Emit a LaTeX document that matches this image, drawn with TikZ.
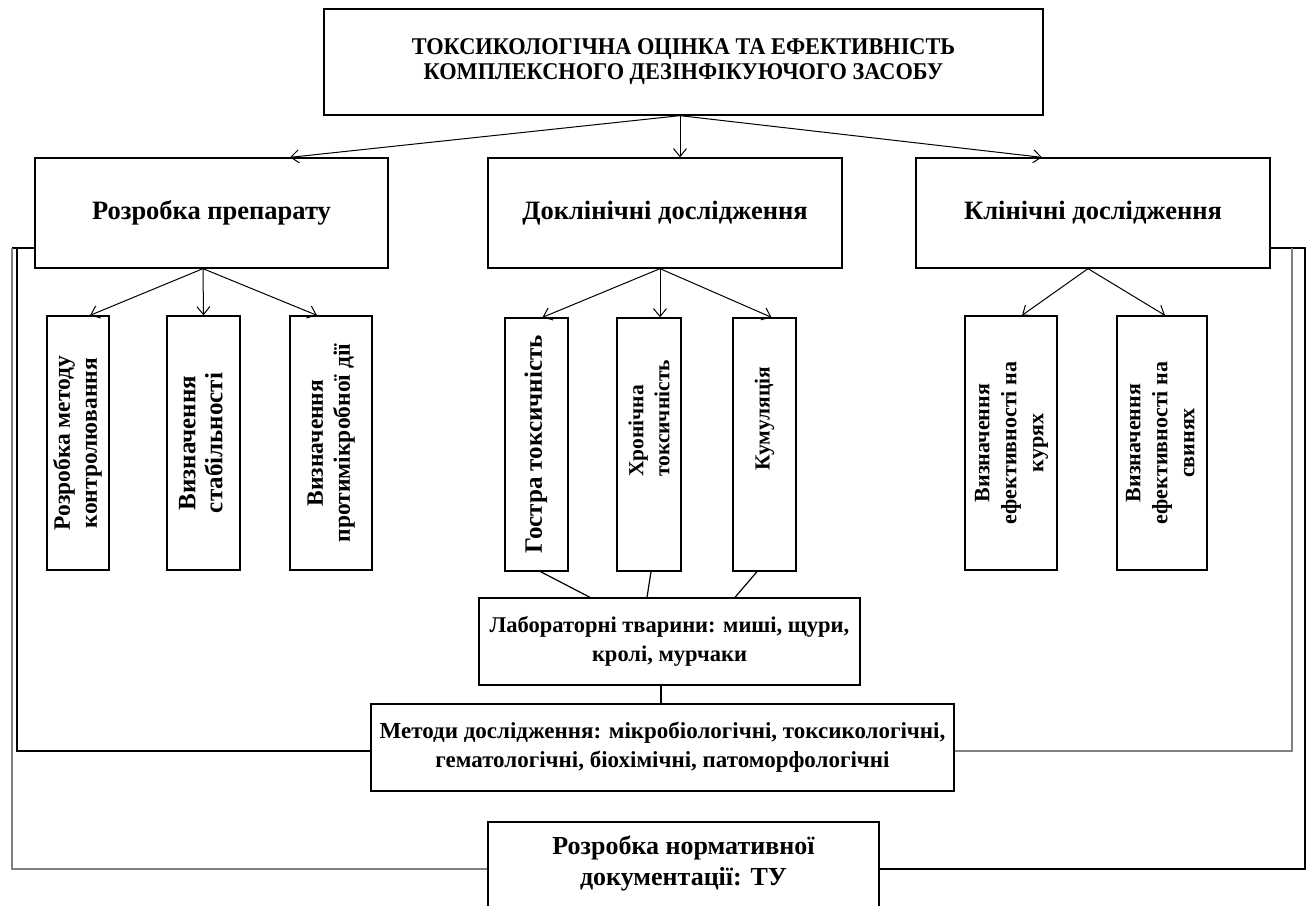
\documentclass[tikz,border=0pt]{standalone}
\usepackage{fontspec}
\setmainfont{Liberation Serif}
\usetikzlibrary{arrows.meta,calc}
\tikzset{
  x=1pt,y=-1pt,
  box/.style={draw,line width=1.3pt,inner sep=0pt,align=center,font=\bfseries},
  midlabel/.style={font=\fontsize{26.5}{30}\selectfont\bfseries},
  smalltext/.style={font=\fontsize{22.5}{29}\selectfont\bfseries},
  vlabel/.style={rotate=90,anchor=west,inner sep=0pt,align=left,font=\fontsize{21.5}{26}\selectfont\bfseries},
  arr/.style={line width=1pt,-{Straight Barb[length=8pt,width=13pt]}},
  conn/.style={line width=1.2pt},
  grayconn/.style={line width=1.5pt,draw=black!50}
}
\newcommand{\vtext}[3][c]{\rotatebox{90}{\fontsize{#2}{27}\selectfont\bfseries\begin{tabular}{@{}#1@{}}#3\end{tabular}}}
\begin{document}
\begin{tikzpicture}
\useasboundingbox (0,0) rectangle (1309,905);
% top
\node[box,minimum width=719,minimum height=106] (top) at (683.5,62)
  {\fontsize{24}{25}\selectfont\bfseries\scalebox{0.93}[1]{\begin{tabular}{@{}c@{}}ТОКСИКОЛОГІЧНА ОЦІНКА ТА ЕФЕКТИВНІСТЬ\\КОМПЛЕКСНОГО ДЕЗІНФІКУЮЧОГО ЗАСОБУ\end{tabular}}};
% middle row
\node[box,midlabel,minimum width=353,minimum height=110] (prep) at (211.5,213) {Розробка препарату};
\node[box,midlabel,minimum width=354,minimum height=110] (dokl) at (665,213) {Доклінічні дослідження};
\node[box,midlabel,minimum width=354,minimum height=110] (klin) at (1093,213) {Клінічні дослідження};
% left subs
\node[box,minimum width=62,minimum height=254] (s1) at (78,443) {\vtext{23.5}{Розробка методу\\контролювання}};
\node[box,minimum width=73,minimum height=254] (s2) at (203.5,443) {\vtext{25}{Визначення\\стабільності}};
\node[box,minimum width=82,minimum height=254] (s3) at (331,443) {\vtext{23.5}{Визначення\\протимікробної дії}};
% middle subs
\node[box,minimum width=63,minimum height=253] (g) at (536.5,444.5) {\vtext{25}{Гостра токсичність}};
\node[box,minimum width=64,minimum height=253] (h) at (649,444.5) {};
\node[vlabel] (htext) at (649,477) {Хронічна\\токсичність};
\node[box,minimum width=63,minimum height=253] (k) at (764.5,444.5) {};
\node[vlabel] (ktext) at (764.5,471) {Кумуляція};
% right subs
\node[box,minimum width=92,minimum height=254] (r1) at (1011,443) {\vtext{22}{Визначення\\ефективності на\\курях}};
\node[box,minimum width=90,minimum height=254] (r2) at (1162,443) {\vtext{22}{Визначення\\ефективності на\\свинях}};
% lab
\node[box,smalltext,minimum width=381,minimum height=87] (lab) at (669.5,641.5)
  {Лабораторні тварини: миші, щури,\\кролі, мурчаки};
% methods
\node[box,font=\fontsize{23}{29}\selectfont\bfseries,minimum width=583,minimum height=87] (met) at (662.5,747.5)
  {Методи дослідження: мікробіологічні, токсикологічні,\\гематологічні, біохімічні, патоморфологічні};
% norm
\node[box,minimum width=391,minimum height=88] (norm) at (683.5,866) {};
\node[font=\fontsize{26}{31}\selectfont\bfseries,align=center,inner sep=0pt] (normtext) at (683.5,863)
  {Розробка нормативної\\документації: ТУ};
% arrows from top
\draw[arr] ($(top.south)+(-3.5,0)$) -- ($(prep.north)+(78.5,0)$);
\draw[arr] ($(top.south)+(-3.5,0)$) -- ($(dokl.north)+(15,0)$);
\draw[arr] ($(top.south)+(-3.5,0)$) -- ($(klin.north)+(-51,0)$);
% arrows from prep
\draw[arr] ($(prep.south)+(-8.5,0)$) -- ($(s1.north)+(12,0)$);
\draw[arr] ($(prep.south)+(-8.5,0)$) -- (s2.north);
\draw[arr] ($(prep.south)+(-8.5,0)$) -- ($(s3.north)+(-14,0)$);
% arrows from dokl
\draw[arr] ($(dokl.south)+(-5,0)$) -- ($(g.north)+(6,0)$);
\draw[arr] ($(dokl.south)+(-5,0)$) -- ($(h.north)+(11,0)$);
\draw[arr] ($(dokl.south)+(-5,0)$) -- ($(k.north)+(7,0)$);
% arrows from klin
\draw[arr] ($(klin.south)+(-5,0)$) -- ($(r1.north)+(11,0)$);
\draw[arr] ($(klin.south)+(-5,0)$) -- ($(r2.north)+(3,0)$);
% to lab
\draw[conn] ($(g.south)+(4,0)$) -- ($(lab.north)+(-79.5,0)$);
\draw[conn] ($(h.south)+(2,0)$) -- ($(lab.north)+(-22.5,0)$);
\draw[conn] ($(k.south)+(-7.5,0)$) -- ($(lab.north)+(65.5,0)$);
\draw[conn] ($(lab.south)+(-8.5,0)$) -- ($(met.north)+(-1.5,0)$);
% side frames
\draw[conn] ($(prep.west)+(0,35)$) -- (12,248);
\draw[grayconn] (12,248) -- (12,869) -- (norm.west |- 0,869);
\draw[conn] (17,248) -- (17,751) -- (met.west |- 0,751);
\draw[conn] ($(klin.east)+(0,35)$) -- (1305,248) -- (1305,869) -- (norm.east |- 0,869);
\draw[grayconn] (1292,248) -- (1292,751) -- (met.east |- 0,751);
\end{tikzpicture}
\end{document}
